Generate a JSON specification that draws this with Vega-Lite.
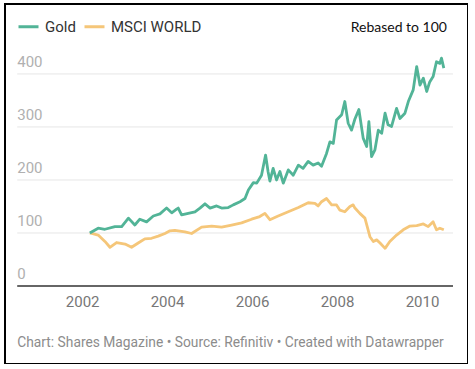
{
  "$schema": "https://vega.github.io/schema/vega-lite/v6.json",
  "width": 463,
  "height": 360,
  "autosize": {"type": "none"},
  "padding": {"left": 5, "top": 4, "right": 0, "bottom": 0},
  "background": "white",
  "config": {
    "view": {"stroke": "#000", "strokeWidth": 2},
    "font": "Roboto",
    "axisX": {"offset": -78, "domain": false, "ticks": false, "grid": false, "labelPadding": 8, "labelFontSize": 15, "labelColor": "#777", "labelFont": "Roboto"}
  },
  "layer": [
    {
      "data": {"values": [{"v": 100}, {"v": 200}, {"v": 300}, {"v": 400}]},
      "mark": {"type": "rule", "color": "#e6e6e6", "strokeWidth": 1},
      "encoding": {
        "y": {"field": "v", "type": "quantitative", "scale": {"domain": [-147.2, 532], "nice": false, "zero": false}, "axis": null},
        "x": {"datum": {"year": 2000, "month": 6, "date": 22}, "type": "temporal", "scale": {"domain": [{"year": 2000, "month": 3, "date": 9}, {"year": 2011, "month": 1, "date": 31}]}},
        "x2": {"datum": {"year": 2010, "month": 9, "date": 24}}
      }
    },
    {
      "data": {"values": [{"v": 0}]},
      "mark": {"type": "rule", "color": "#333", "strokeWidth": 1.5},
      "encoding": {
        "y": {"field": "v", "type": "quantitative", "axis": null},
        "x": {"datum": {"year": 2000, "month": 6, "date": 22}, "type": "temporal"},
        "x2": {"datum": {"year": 2010, "month": 9, "date": 24}}
      }
    },
    {
      "data": {"values": [
        {"date": "2002-03-08", "series": "MSCI WORLD", "value": 100},
        {"date": "2002-05-19", "series": "MSCI WORLD", "value": 96},
        {"date": "2002-07-16", "series": "MSCI WORLD", "value": 84},
        {"date": "2002-08-28", "series": "MSCI WORLD", "value": 73},
        {"date": "2002-10-24", "series": "MSCI WORLD", "value": 82},
        {"date": "2003-01-05", "series": "MSCI WORLD", "value": 79},
        {"date": "2003-03-02", "series": "MSCI WORLD", "value": 73},
        {"date": "2003-04-28", "series": "MSCI WORLD", "value": 81},
        {"date": "2003-06-24", "series": "MSCI WORLD", "value": 89},
        {"date": "2003-08-21", "series": "MSCI WORLD", "value": 90},
        {"date": "2003-10-17", "series": "MSCI WORLD", "value": 94},
        {"date": "2003-12-14", "series": "MSCI WORLD", "value": 99},
        {"date": "2004-01-26", "series": "MSCI WORLD", "value": 104},
        {"date": "2004-03-08", "series": "MSCI WORLD", "value": 105},
        {"date": "2004-06-03", "series": "MSCI WORLD", "value": 102},
        {"date": "2004-07-30", "series": "MSCI WORLD", "value": 99},
        {"date": "2004-10-24", "series": "MSCI WORLD", "value": 111},
        {"date": "2005-01-19", "series": "MSCI WORLD", "value": 113},
        {"date": "2005-04-14", "series": "MSCI WORLD", "value": 111},
        {"date": "2005-07-09", "series": "MSCI WORLD", "value": 115},
        {"date": "2005-10-03", "series": "MSCI WORLD", "value": 119},
        {"date": "2005-12-28", "series": "MSCI WORLD", "value": 126},
        {"date": "2006-03-08", "series": "MSCI WORLD", "value": 131},
        {"date": "2006-04-21", "series": "MSCI WORLD", "value": 137},
        {"date": "2006-06-03", "series": "MSCI WORLD", "value": 125},
        {"date": "2006-08-13", "series": "MSCI WORLD", "value": 132},
        {"date": "2006-11-08", "series": "MSCI WORLD", "value": 140},
        {"date": "2007-02-03", "series": "MSCI WORLD", "value": 148},
        {"date": "2007-04-28", "series": "MSCI WORLD", "value": 157},
        {"date": "2007-06-25", "series": "MSCI WORLD", "value": 156},
        {"date": "2007-07-23", "series": "MSCI WORLD", "value": 151},
        {"date": "2007-08-21", "series": "MSCI WORLD", "value": 159},
        {"date": "2007-10-03", "series": "MSCI WORLD", "value": 165},
        {"date": "2007-11-16", "series": "MSCI WORLD", "value": 153},
        {"date": "2007-12-28", "series": "MSCI WORLD", "value": 153},
        {"date": "2008-01-26", "series": "MSCI WORLD", "value": 143},
        {"date": "2008-03-08", "series": "MSCI WORLD", "value": 140},
        {"date": "2008-04-21", "series": "MSCI WORLD", "value": 150},
        {"date": "2008-05-19", "series": "MSCI WORLD", "value": 153},
        {"date": "2008-06-03", "series": "MSCI WORLD", "value": 147},
        {"date": "2008-07-15", "series": "MSCI WORLD", "value": 137},
        {"date": "2008-08-28", "series": "MSCI WORLD", "value": 128},
        {"date": "2008-10-10", "series": "MSCI WORLD", "value": 93},
        {"date": "2008-11-08", "series": "MSCI WORLD", "value": 84},
        {"date": "2008-12-07", "series": "MSCI WORLD", "value": 87},
        {"date": "2009-01-05", "series": "MSCI WORLD", "value": 81},
        {"date": "2009-02-17", "series": "MSCI WORLD", "value": 71},
        {"date": "2009-03-30", "series": "MSCI WORLD", "value": 84},
        {"date": "2009-05-27", "series": "MSCI WORLD", "value": 96},
        {"date": "2009-07-23", "series": "MSCI WORLD", "value": 106},
        {"date": "2009-09-19", "series": "MSCI WORLD", "value": 113},
        {"date": "2009-11-16", "series": "MSCI WORLD", "value": 114},
        {"date": "2010-01-12", "series": "MSCI WORLD", "value": 117},
        {"date": "2010-02-23", "series": "MSCI WORLD", "value": 112},
        {"date": "2010-04-06", "series": "MSCI WORLD", "value": 121},
        {"date": "2010-05-05", "series": "MSCI WORLD", "value": 106},
        {"date": "2010-06-03", "series": "MSCI WORLD", "value": 109},
        {"date": "2010-07-07", "series": "MSCI WORLD", "value": 106},
        {"date": "2002-03-08", "series": "Gold", "value": 100},
        {"date": "2002-05-19", "series": "Gold", "value": 109},
        {"date": "2002-07-16", "series": "Gold", "value": 107},
        {"date": "2002-10-10", "series": "Gold", "value": 112},
        {"date": "2002-12-07", "series": "Gold", "value": 112},
        {"date": "2003-02-03", "series": "Gold", "value": 128},
        {"date": "2003-03-30", "series": "Gold", "value": 115},
        {"date": "2003-05-12", "series": "Gold", "value": 126},
        {"date": "2003-07-09", "series": "Gold", "value": 121},
        {"date": "2003-09-05", "series": "Gold", "value": 132},
        {"date": "2003-11-01", "series": "Gold", "value": 136},
        {"date": "2003-12-28", "series": "Gold", "value": 147},
        {"date": "2004-02-10", "series": "Gold", "value": 138},
        {"date": "2004-03-23", "series": "Gold", "value": 145},
        {"date": "2004-04-06", "series": "Gold", "value": 147},
        {"date": "2004-05-05", "series": "Gold", "value": 134},
        {"date": "2004-07-01", "series": "Gold", "value": 137},
        {"date": "2004-08-28", "series": "Gold", "value": 140},
        {"date": "2004-10-10", "series": "Gold", "value": 147},
        {"date": "2004-11-22", "series": "Gold", "value": 155},
        {"date": "2005-01-05", "series": "Gold", "value": 147},
        {"date": "2005-03-02", "series": "Gold", "value": 151},
        {"date": "2005-04-14", "series": "Gold", "value": 147},
        {"date": "2005-06-10", "series": "Gold", "value": 148},
        {"date": "2005-07-23", "series": "Gold", "value": 153},
        {"date": "2005-09-19", "series": "Gold", "value": 159},
        {"date": "2005-11-01", "series": "Gold", "value": 165},
        {"date": "2005-11-30", "series": "Gold", "value": 181},
        {"date": "2006-01-12", "series": "Gold", "value": 195},
        {"date": "2006-02-10", "series": "Gold", "value": 194},
        {"date": "2006-03-23", "series": "Gold", "value": 209},
        {"date": "2006-04-27", "series": "Gold", "value": 247},
        {"date": "2006-05-19", "series": "Gold", "value": 215},
        {"date": "2006-06-03", "series": "Gold", "value": 198},
        {"date": "2006-07-01", "series": "Gold", "value": 222},
        {"date": "2006-07-30", "series": "Gold", "value": 200},
        {"date": "2006-08-28", "series": "Gold", "value": 216},
        {"date": "2006-09-26", "series": "Gold", "value": 194},
        {"date": "2006-11-08", "series": "Gold", "value": 219},
        {"date": "2006-12-21", "series": "Gold", "value": 209},
        {"date": "2007-02-03", "series": "Gold", "value": 228},
        {"date": "2007-03-15", "series": "Gold", "value": 222},
        {"date": "2007-04-28", "series": "Gold", "value": 235},
        {"date": "2007-06-10", "series": "Gold", "value": 228},
        {"date": "2007-07-23", "series": "Gold", "value": 232},
        {"date": "2007-08-21", "series": "Gold", "value": 226},
        {"date": "2007-10-03", "series": "Gold", "value": 250},
        {"date": "2007-11-01", "series": "Gold", "value": 272},
        {"date": "2007-11-30", "series": "Gold", "value": 269},
        {"date": "2007-12-28", "series": "Gold", "value": 313},
        {"date": "2008-02-10", "series": "Gold", "value": 323},
        {"date": "2008-03-08", "series": "Gold", "value": 348},
        {"date": "2008-04-06", "series": "Gold", "value": 307},
        {"date": "2008-05-05", "series": "Gold", "value": 294},
        {"date": "2008-06-03", "series": "Gold", "value": 315},
        {"date": "2008-07-07", "series": "Gold", "value": 333},
        {"date": "2008-08-13", "series": "Gold", "value": 279},
        {"date": "2008-09-12", "series": "Gold", "value": 263},
        {"date": "2008-10-01", "series": "Gold", "value": 310},
        {"date": "2008-10-24", "series": "Gold", "value": 244},
        {"date": "2008-11-22", "series": "Gold", "value": 257},
        {"date": "2008-12-21", "series": "Gold", "value": 294},
        {"date": "2009-01-19", "series": "Gold", "value": 288},
        {"date": "2009-02-17", "series": "Gold", "value": 326},
        {"date": "2009-03-15", "series": "Gold", "value": 304},
        {"date": "2009-04-14", "series": "Gold", "value": 301},
        {"date": "2009-05-27", "series": "Gold", "value": 335},
        {"date": "2009-06-25", "series": "Gold", "value": 316},
        {"date": "2009-08-07", "series": "Gold", "value": 326},
        {"date": "2009-09-05", "series": "Gold", "value": 348},
        {"date": "2009-10-17", "series": "Gold", "value": 370},
        {"date": "2009-11-16", "series": "Gold", "value": 414},
        {"date": "2009-12-14", "series": "Gold", "value": 379},
        {"date": "2010-01-12", "series": "Gold", "value": 392},
        {"date": "2010-02-10", "series": "Gold", "value": 367},
        {"date": "2010-03-08", "series": "Gold", "value": 385},
        {"date": "2010-04-06", "series": "Gold", "value": 395},
        {"date": "2010-05-05", "series": "Gold", "value": 423},
        {"date": "2010-06-03", "series": "Gold", "value": 420},
        {"date": "2010-06-17", "series": "Gold", "value": 430},
        {"date": "2010-07-07", "series": "Gold", "value": 411}
      ]},
      "mark": {"type": "line", "strokeWidth": 2.8, "strokeJoin": "round"},
      "encoding": {
        "x": {"field": "date", "type": "temporal", "axis": {"title": null, "format": "%Y", "values": [{"year": 2002}, {"year": 2004}, {"year": 2006}, {"year": 2008}, {"year": 2010}]}},
        "y": {"field": "value", "type": "quantitative", "axis": null},
        "color": {
          "field": "series", "type": "nominal",
          "scale": {"domain": ["Gold", "MSCI WORLD"], "range": ["#52b497", "#f5c679"]},
          "legend": {"orient": "none", "legendX": 12, "legendY": 11, "direction": "horizontal", "title": null, "symbolType": "stroke", "symbolSize": 400, "symbolStrokeWidth": 3, "labelFontSize": 15, "labelColor": "#333", "labelFont": "Roboto", "columnPadding": 2, "labelOffset": 5}
        },
        "order": {"field": "series", "sort": "descending"}
      }
    },
    {
      "data": {"values": [{"v": 0, "lab": "0"}, {"v": 100, "lab": "100"}, {"v": 200, "lab": "200"}, {"v": 300, "lab": "300"}, {"v": 400, "lab": "400"}]},
      "mark": {"type": "text", "align": "left", "baseline": "bottom", "dy": -4, "fontSize": 15, "color": "#b0b0b0", "font": "Roboto"},
      "encoding": {
        "y": {"field": "v", "type": "quantitative", "axis": null},
        "x": {"datum": {"year": 2000, "month": 6, "date": 22}, "type": "temporal"},
        "text": {"field": "lab"}
      }
    },
    {
      "data": {"values": [{"t": "Rebased to 100"}]},
      "mark": {"type": "text", "align": "right", "baseline": "middle", "fontSize": 14, "color": "#111", "font": "Lato"},
      "encoding": {
        "x": {"datum": {"year": 2010, "month": 8, "date": 3}, "type": "temporal"},
        "y": {"datum": 486.8, "type": "quantitative"},
        "text": {"field": "t"}
      }
    },
    {
      "data": {"values": [{"t": "Chart: Shares Magazine • Source: Refinitiv • Created with Datawrapper"}]},
      "mark": {"type": "text", "align": "left", "baseline": "middle", "fontSize": 13.8, "color": "#8c8c8c", "font": "Roboto"},
      "encoding": {
        "x": {"datum": {"year": 2000, "month": 6, "date": 22}, "type": "temporal"},
        "y": {"datum": -107.5, "type": "quantitative"},
        "text": {"field": "t"}
      }
    }
  ]
}
